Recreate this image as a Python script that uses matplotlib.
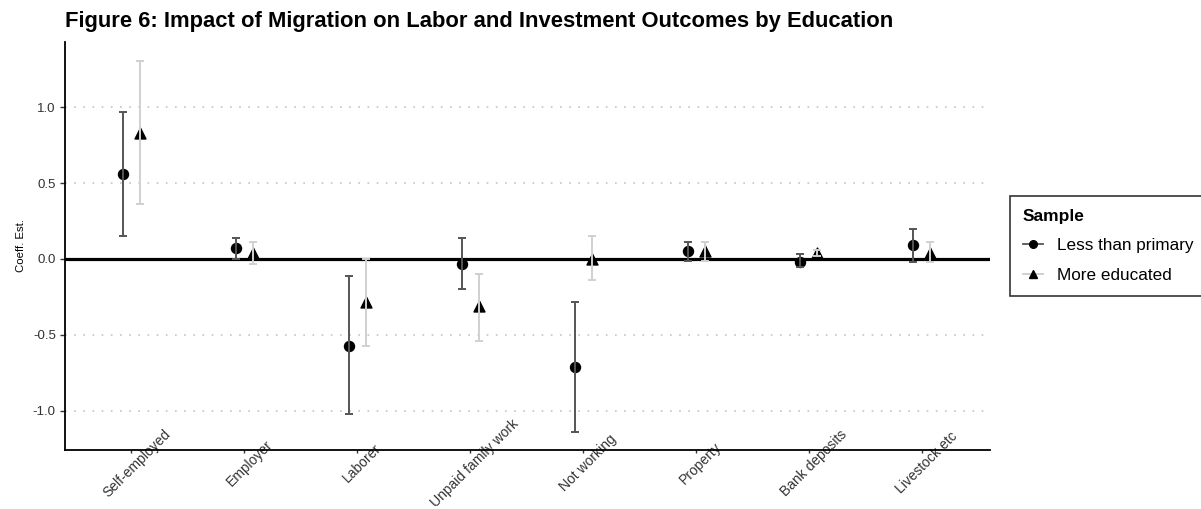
import numpy as np
import matplotlib.pyplot as plt
import matplotlib.transforms as mtransforms
from matplotlib.lines import Line2D

plt.rcParams['font.family'] = ['Liberation Sans', 'DejaVu Sans']

# Data
categories = ['Self-employed', 'Employer', 'Laborer', 'Unpaid family work',
              'Not working', 'Property', 'Bank deposits', 'Livestock etc']

less_est = [0.56, 0.07, -0.57, -0.03, -0.71, 0.05, -0.02, 0.09]
less_lo = [0.15, 0.00, -1.02, -0.20, -1.14, -0.01, -0.05, -0.02]
less_hi = [0.97, 0.14, -0.11, 0.14, -0.28, 0.11, 0.03, 0.20]

more_est = [0.83, 0.04, -0.28, -0.31, 0.00, 0.05, 0.04, 0.04]
more_lo = [0.36, -0.03, -0.57, -0.54, -0.14, -0.01, 0.02, -0.02]
more_hi = [1.30, 0.11, 0.00, -0.10, 0.15, 0.11, 0.06, 0.11]

x = np.arange(1, len(categories) + 1)
dodge = 0.075

fig = plt.figure(figsize=(12.01, 5.09), dpi=100)
ax = fig.add_axes([0.054, 0.116, 0.770, 0.802])

# grid + zero line
for yv in [-1.0, -0.5, 0.5, 1.0]:
    ax.axhline(yv, color='#c4c4c4', lw=1.2, ls=(0, (1, 4.5)), zorder=0)
ax.axhline(0, color='black', lw=2.3, zorder=1)

# less than primary
le = np.array(less_est)
ax.scatter(x - dodge, le, s=52, color='black', marker='o', zorder=3)
ax.errorbar(x - dodge, le, yerr=[le - np.array(less_lo), np.array(less_hi) - le],
            fmt='none', ecolor='#555555', elinewidth=1.4, capsize=2.6, capthick=1.4, zorder=4)

# more educated
me = np.array(more_est)
ax.scatter(x + dodge, me, s=62, color='black', marker='^', zorder=3)
ax.errorbar(x + dodge, me, yerr=[me - np.array(more_lo), np.array(more_hi) - me],
            fmt='none', ecolor='#d0d0d0', elinewidth=1.4, capsize=2.6, capthick=1.4, zorder=4)

ax.set_xlim(0.41, 8.6)
ax.set_ylim(-1.257, 1.43)

for s in ['top', 'right']:
    ax.spines[s].set_visible(False)
for s in ['left', 'bottom']:
    ax.spines[s].set_linewidth(1.3)
ax.tick_params(axis='y', length=3.5, width=1, color='#333333', pad=3)
ax.tick_params(axis='x', length=2.5, width=1, color='#333333', pad=7)

ax.set_yticks([-1.0, -0.5, 0.0, 0.5, 1.0])
ax.set_yticklabels(['-1.0', '-0.5', '0.0', '0.5', '1.0'], fontsize=9.5, color='#333333')
ax.set_xticks(x)
ax.set_xticklabels(categories, rotation=45, ha='center', va='center',
                   rotation_mode='anchor', fontsize=10, color='#333333')
# nudge the rotated labels a little to the right, like the original
offset = mtransforms.ScaledTranslation(5 / 100, 0, fig.dpi_scale_trans)
for lbl in ax.get_xticklabels():
    lbl.set_transform(lbl.get_transform() + offset)
ax.set_ylabel('Coeff. Est.', fontsize=8.2, labelpad=5)

fig.text(0.054, 0.957, 'Figure 6: Impact of Migration on Labor and Investment Outcomes by Education',
         fontsize=15.8, fontweight='bold', va='center', ha='left')

handles = [
    Line2D([0], [0], color='#555555', lw=1.3, marker='o', markerfacecolor='black',
           markeredgecolor='black', markersize=5.5),
    Line2D([0], [0], color='#cccccc', lw=1.3, marker='^', markerfacecolor='black',
           markeredgecolor='black', markersize=5.5),
]
leg = fig.legend(handles, ['Less than primary', 'More educated'], title='Sample',
                 loc='upper left', bbox_to_anchor=(0.841, 0.615), borderaxespad=0,
                 fontsize=12.3, title_fontproperties={'weight': 'bold', 'size': 12.5},
                 frameon=True, fancybox=False, edgecolor='black', handlelength=1.2,
                 handletextpad=0.8, labelspacing=0.85, alignment='left', borderpad=0.75)
leg.get_frame().set_linewidth(1.2)

fig.savefig('out.png', dpi=100)
